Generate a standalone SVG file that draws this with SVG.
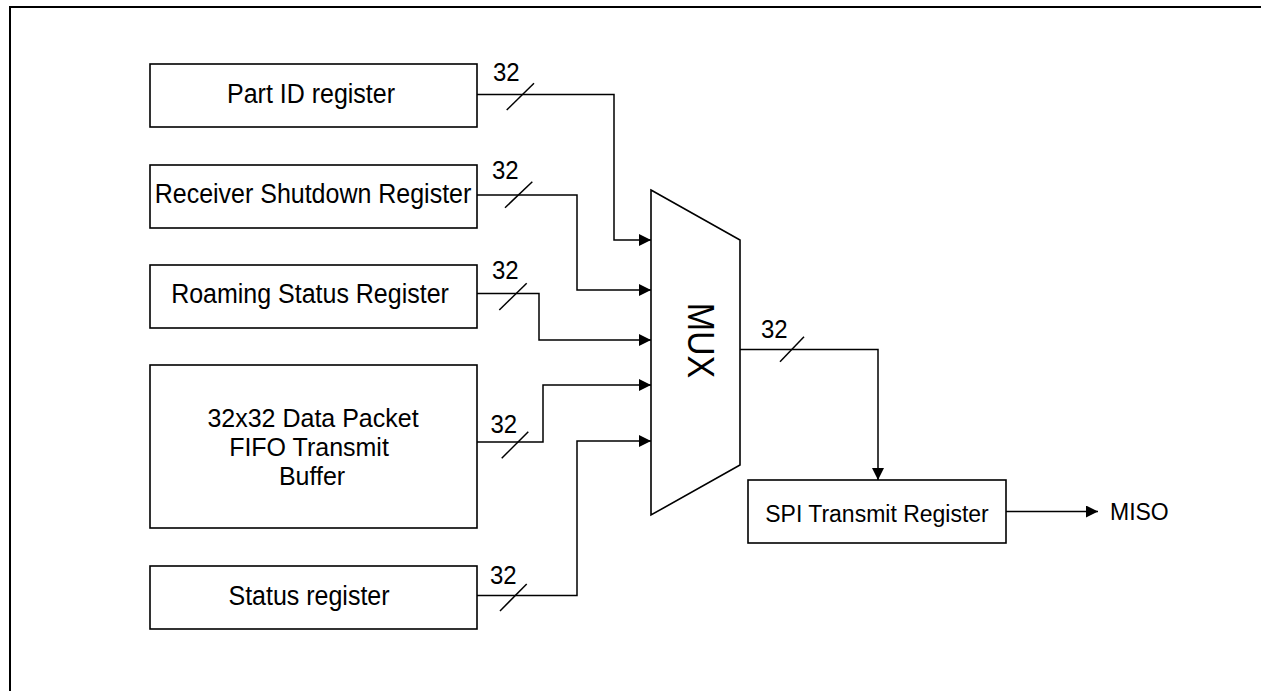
<svg xmlns="http://www.w3.org/2000/svg" width="1261" height="691" viewBox="0 0 1261 691">
<style>
  .box{fill:#fff;stroke:#000;stroke-width:1.6}
  .t{font-family:"Liberation Sans",Arial,sans-serif;font-size:25px;fill:#000;text-anchor:middle}
  .lbl{font-family:"Liberation Sans",Arial,sans-serif;font-size:24px;fill:#000}
  .w{fill:none;stroke:#000;stroke-width:1.5}
  .arr{fill:none;stroke:#000;stroke-width:1.5;marker-end:url(#ah)}
</style>
<defs>
  <marker id="ah" markerUnits="userSpaceOnUse" markerWidth="13" markerHeight="12" refX="12" refY="6" orient="auto">
    <path d="M0,0 L12,6 L0,12 Z" fill="#000"/>
  </marker>
</defs>
<rect x="0" y="0" width="1261" height="691" fill="#fff"/>
<path d="M10,700 V7 H1270" fill="none" stroke="#000" stroke-width="2"/>

<g id="part-id">
  <rect class="box" x="150" y="64" width="327" height="63"/>
  <text class="t" transform="translate(311,103) scale(1,1.08)">Part ID register</text>
</g>
<g id="receiver-shutdown">
  <rect class="box" x="150" y="165" width="327" height="63"/>
  <text class="t" transform="translate(313,203) scale(1,1.08)">Receiver Shutdown Register</text>
</g>
<g id="roaming-status">
  <rect class="box" x="150" y="265" width="327" height="63"/>
  <text class="t" transform="translate(310,303) scale(1,1.08)">Roaming Status Register</text>
</g>
<g id="fifo">
  <rect class="box" x="150" y="365" width="327" height="163"/>
  <text class="t" x="313" y="426.5">32x32 Data Packet</text>
  <text class="t" x="309" y="455.5">FIFO Transmit</text>
  <text class="t" x="312" y="484.5">Buffer</text>
</g>
<g id="status">
  <rect class="box" x="150" y="566" width="327" height="63"/>
  <text class="t" transform="translate(309,605) scale(1,1.08)">Status register</text>
</g>
<g id="mux">
  <path class="box" d="M651,190 L740,240 L740,465 L651,515 Z"/>
  <text class="t" style="font-size:34px" transform="translate(688,340.5) rotate(90) scale(1,1.1)">MUX</text>
</g>
<g id="spi">
  <rect class="box" x="748" y="480" width="258" height="63"/>
  <text class="t" style="font-size:23px" transform="translate(877,521.5) scale(1,1.08)">SPI Transmit Register</text>
</g>
<g id="miso">
  <text class="lbl" style="font-size:23px" transform="translate(1110,520) scale(1,1.08)">MISO</text>
</g>

<g id="connectors">
  <path class="arr" d="M477,94.5 H614 V240 H651"/>
  <path class="arr" d="M477,195 H577 V290 H651"/>
  <path class="arr" d="M477,293.5 H539 V340 H651"/>
  <path class="arr" d="M477,442 H543 V385 H651"/>
  <path class="arr" d="M477,595.5 H577 V441 H651"/>
  <path class="arr" d="M740,349.5 H878 V480"/>
  <path class="arr" d="M1006,511.5 H1098"/>
  <g class="w">
    <line x1="506.7" y1="110" x2="534" y2="83.3"/>
    <line x1="505" y1="207.7" x2="532.3" y2="181.7"/>
    <line x1="499.3" y1="310" x2="526.7" y2="283.3"/>
    <line x1="501.7" y1="458.3" x2="528.3" y2="431.7"/>
    <line x1="500" y1="611" x2="526.7" y2="584"/>
    <line x1="780" y1="361.7" x2="804" y2="336.7"/>
  </g>
  <text class="lbl" transform="translate(493,81) scale(1,1.05)">32</text>
  <text class="lbl" transform="translate(492,179) scale(1,1.05)">32</text>
  <text class="lbl" transform="translate(492,278.5) scale(1,1.05)">32</text>
  <text class="lbl" transform="translate(490.5,433) scale(1,1.05)">32</text>
  <text class="lbl" transform="translate(490,583.5) scale(1,1.05)">32</text>
  <text class="lbl" transform="translate(761,338) scale(1,1.05)">32</text>
</g>
</svg>
